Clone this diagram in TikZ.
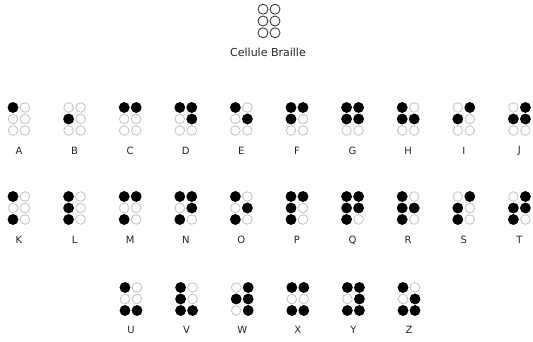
\documentclass[tikz,border=0pt]{standalone}
\usepackage{fontspec}
\setsansfont{DejaVu Sans}
\usepackage{tikz}
\usetikzlibrary{positioning,calc}

\tikzset{
  dot empty/.style={circle, draw=black!22, line width=0.9pt, minimum size=9.6pt, inner sep=0pt},
  dot full/.style={circle, fill=black, minimum size=10.8pt, inner sep=0pt},
  dot head/.style={circle, draw=black!75, line width=0.9pt, minimum size=10pt, inner sep=0pt},
  letter/.style={font=\sffamily\fontsize{10}{11}\selectfont, text=black!85, inner sep=0pt}
}

\begin{document}
\begin{tikzpicture}[x=1pt, y=-1pt]
    \useasboundingbox (0,0) rectangle (533,342);

    % Cellule vide
    \coordinate (head) at (269,21);
    \foreach \d in {1,...,6} {
        \pgfmathsetmacro{\dx}{\d>3 ? 6 : -6}
        \pgfmathsetmacro{\dy}{(mod(\d-1,3)-1)*11.8}
        \node[dot head] (head-\d) at ($(head)+(\dx,\dy)$) {};
    }
    \node[letter, font=\sffamily\fontsize{11}{12}\selectfont] (title) at (268,52) {Cellule Braille};

    % Rang 1 : A - J
    \foreach \L/\D [count=\i] in {A/{1},B/{2},C/{1,4},D/{1,4,5},E/{1,5},F/{1,2,4},G/{1,2,4,5},H/{1,2,5},I/{2,4},J/{2,4,5}} {
        \coordinate (cell-\L) at ({19+55.6*(\i-1)},119);
        \foreach \d in {1,...,6} {
            \pgfmathsetmacro{\dx}{\d>3 ? 6 : -6}
            \pgfmathsetmacro{\dy}{(mod(\d-1,3)-1)*11.5}
            \node[dot empty] (dot-\L-\d) at ($(cell-\L)+(\dx,\dy)$) {};
        }
        \foreach \d in \D {
            \node[dot full] (full-\L-\d) at (dot-\L-\d) {};
        }
        \node[letter] (lab-\L) at ($(cell-\L)+(0,32)$) {\L};
    }

    % Rang 2 : K - T
    \foreach \L/\D [count=\i] in {K/{1,3},L/{1,2,3},M/{1,3,4},N/{1,3,4,5},O/{1,3,5},P/{1,2,3,4},Q/{1,2,3,4,5},R/{1,2,3,5},S/{2,3,4},T/{2,3,4,5}} {
        \coordinate (cell-\L) at ({19+55.6*(\i-1)},208);
        \foreach \d in {1,...,6} {
            \pgfmathsetmacro{\dx}{\d>3 ? 6 : -6}
            \pgfmathsetmacro{\dy}{(mod(\d-1,3)-1)*11.5}
            \node[dot empty] (dot-\L-\d) at ($(cell-\L)+(\dx,\dy)$) {};
        }
        \foreach \d in \D {
            \node[dot full] (full-\L-\d) at (dot-\L-\d) {};
        }
        \node[letter] (lab-\L) at ($(cell-\L)+(0,32)$) {\L};
    }

    % Rang 3 : U - Z
    \foreach \L/\D [count=\i] in {U/{1,3,6},V/{1,2,3,6},W/{2,4,5,6},X/{1,3,4,6},Y/{1,3,4,5,6},Z/{1,3,5,6}} {
        \coordinate (cell-\L) at ({131+55.6*(\i-1)},299);
        \foreach \d in {1,...,6} {
            \pgfmathsetmacro{\dx}{\d>3 ? 6 : -6}
            \pgfmathsetmacro{\dy}{(mod(\d-1,3)-1)*11.5}
            \node[dot empty] (dot-\L-\d) at ($(cell-\L)+(\dx,\dy)$) {};
        }
        \foreach \d in \D {
            \node[dot full] (full-\L-\d) at (dot-\L-\d) {};
        }
        \node[letter] (lab-\L) at ($(cell-\L)+(0,31)$) {\L};
    }
\end{tikzpicture}
\end{document}
